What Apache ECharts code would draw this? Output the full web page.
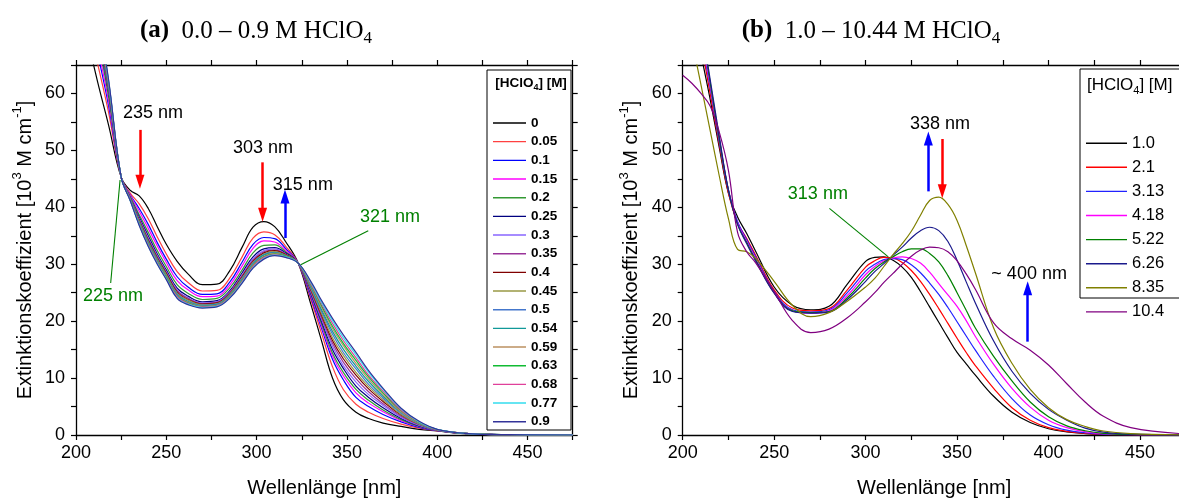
<!DOCTYPE html>
<html><head><meta charset="utf-8">
<script src="https://cdn.jsdelivr.net/npm/echarts@6/dist/echarts.min.js"></script>
<style>html,body{margin:0;padding:0;background:#fff}#c{width:1179px;height:499px}</style>
</head><body><div id="c"></div>
<script>
// ---------- Panel (a) data: 0.0 - 0.9 M HClO4 ----------
const WL_A = [205, 212, 218, 225, 230, 235, 240, 245, 250, 256, 262, 270, 278, 285, 292, 298, 304, 310, 316, 323, 330, 336, 342, 348, 355, 362, 370, 380, 390, 400, 415, 440, 475];
const a_0    = [71.5, 62.0, 54.5, 45.3, 43.0, 42.0, 39.8, 36.6, 33.5, 30.5, 28.3, 26.4, 26.5, 28.8, 33.0, 36.5, 37.5, 36.6, 34.0, 30.2, 23.0, 16.5, 10.0, 6.2, 4.0, 2.9, 2.1, 1.5, 1.0, 0.7, 0.25, 0.03, 0];
const a_005  = [74.9, 65.2, 56.7, 45.3, 42.5, 40.6, 38.0, 34.8, 31.8, 28.7, 26.8, 25.3, 25.4, 27.5, 31.3, 34.6, 35.7, 35.2, 33.2, 30.2, 23.8, 17.8, 12.0, 8.0, 5.4, 4.0, 2.9, 1.9, 1.2, 0.74, 0.26, 0.03, 0];
const a_01   = [76.8, 67.0, 57.9, 45.3, 42.2, 39.8, 37.0, 33.8, 30.9, 27.8, 26.0, 24.7, 24.8, 26.8, 30.4, 33.5, 34.7, 34.5, 32.8, 30.2, 24.2, 18.7, 13.3, 9.7, 6.6, 5.0, 3.6, 2.3, 1.35, 0.78, 0.26, 0.03, 0];
const a_015  = [78.0, 68.2, 58.7, 45.3, 42.1, 39.3, 36.3, 33.2, 30.3, 27.1, 25.5, 24.3, 24.4, 26.3, 29.7, 32.8, 34.1, 33.9, 32.5, 30.2, 24.5, 19.1, 13.9, 10.4, 7.4, 5.6, 4.1, 2.5, 1.45, 0.8, 0.27, 0.04, 0];
const a_02   = [79.4, 69.6, 59.5, 45.3, 41.9, 38.7, 35.6, 32.4, 29.6, 26.4, 24.9, 23.8, 24.0, 25.8, 29.0, 32.0, 33.3, 33.4, 32.2, 30.2, 24.7, 19.5, 14.4, 11.0, 8.0, 6.1, 4.4, 2.7, 1.5, 0.81, 0.27, 0.04, 0];
const a_025  = [80.5, 70.6, 60.3, 45.3, 41.7, 38.3, 35.0, 31.8, 29.0, 25.8, 24.4, 23.4, 23.6, 25.3, 28.5, 31.3, 32.7, 32.9, 32.0, 30.2, 24.9, 19.9, 15.0, 11.7, 8.6, 6.6, 4.8, 2.9, 1.6, 0.83, 0.27, 0.04, 0];
const a_03   = [81.1, 71.2, 60.7, 45.3, 41.6, 38.0, 34.6, 31.5, 28.7, 25.5, 24.1, 23.2, 23.4, 25.1, 28.1, 31.0, 32.4, 32.7, 31.8, 30.2, 25.1, 20.3, 15.6, 12.2, 9.3, 7.1, 5.2, 3.1, 1.7, 0.85, 0.28, 0.04, 0];
const a_035  = [81.5, 71.6, 60.9, 45.3, 41.6, 37.8, 34.4, 31.3, 28.5, 25.3, 24.0, 23.1, 23.3, 25.0, 28.0, 30.7, 32.2, 32.5, 31.8, 30.2, 25.3, 20.6, 16.1, 12.8, 9.9, 7.6, 5.5, 3.3, 1.8, 0.87, 0.28, 0.04, 0];
const a_04   = [81.9, 72.0, 61.1, 45.3, 41.5, 37.7, 34.2, 31.1, 28.4, 25.1, 23.8, 23.0, 23.2, 24.8, 27.8, 30.5, 32.0, 32.4, 31.7, 30.2, 25.5, 21.0, 16.6, 13.4, 10.5, 8.1, 5.9, 3.5, 1.9, 0.89, 0.28, 0.04, 0];
const a_045  = [82.3, 72.3, 61.4, 45.3, 41.5, 37.5, 34.0, 30.9, 28.2, 24.9, 23.7, 22.9, 23.1, 24.7, 27.6, 30.3, 31.8, 32.2, 31.6, 30.2, 25.7, 21.3, 17.1, 14.0, 11.0, 8.5, 6.2, 3.6, 1.9, 0.9, 0.28, 0.04, 0];
const a_05   = [82.5, 72.6, 61.5, 45.3, 41.4, 37.4, 33.9, 30.8, 28.0, 24.8, 23.5, 22.8, 23.0, 24.6, 27.5, 30.2, 31.7, 32.1, 31.5, 30.2, 25.9, 21.7, 17.7, 14.5, 11.6, 8.9, 6.5, 3.8, 2.0, 0.92, 0.29, 0.04, 0];
const a_054  = [82.8, 72.8, 61.7, 45.3, 41.4, 37.3, 33.8, 30.7, 27.9, 24.6, 23.4, 22.7, 22.9, 24.5, 27.3, 30.0, 31.6, 32.0, 31.5, 30.2, 26.1, 22.0, 18.2, 15.1, 12.1, 9.4, 6.8, 4.0, 2.1, 0.93, 0.29, 0.04, 0];
const a_059  = [83.0, 73.0, 61.9, 45.3, 41.3, 37.2, 33.6, 30.5, 27.8, 24.5, 23.3, 22.6, 22.8, 24.4, 27.2, 29.9, 31.4, 31.9, 31.4, 30.2, 26.3, 22.4, 18.7, 15.7, 12.6, 9.8, 7.1, 4.1, 2.1, 0.95, 0.29, 0.05, 0];
const a_063  = [83.3, 73.3, 62.0, 45.3, 41.3, 37.1, 33.5, 30.4, 27.7, 24.4, 23.2, 22.5, 22.7, 24.3, 27.1, 29.7, 31.3, 31.8, 31.4, 30.2, 26.5, 22.7, 19.1, 16.1, 13.1, 10.2, 7.4, 4.3, 2.2, 0.96, 0.29, 0.05, 0];
const a_068  = [83.5, 73.5, 62.2, 45.3, 41.3, 37.0, 33.4, 30.3, 27.5, 24.3, 23.1, 22.5, 22.7, 24.2, 27.0, 29.6, 31.2, 31.7, 31.3, 30.2, 26.6, 23.0, 19.6, 16.6, 13.6, 10.5, 7.7, 4.4, 2.3, 0.97, 0.3, 0.05, 0];
const a_077  = [83.8, 73.8, 62.3, 45.3, 41.2, 36.9, 33.2, 30.1, 27.4, 24.1, 23.0, 22.4, 22.6, 24.1, 26.8, 29.4, 31.0, 31.6, 31.3, 30.2, 26.8, 23.3, 20.1, 17.1, 14.1, 11.0, 8.0, 4.6, 2.3, 0.99, 0.3, 0.05, 0];
const a_09   = [84.0, 74.0, 62.5, 45.3, 41.2, 36.8, 33.1, 30.0, 27.3, 24.0, 22.9, 22.3, 22.5, 24.0, 26.7, 29.3, 30.9, 31.5, 31.2, 30.2, 27.0, 23.6, 20.5, 17.6, 14.5, 11.3, 8.2, 4.7, 2.4, 1.0, 0.3, 0.05, 0];
const NAMES_A = ['0', '0.05', '0.1', '0.15', '0.2', '0.25', '0.3', '0.35', '0.4', '0.45', '0.5', '0.54', '0.59', '0.63', '0.68', '0.77', '0.9'];
const SERIES_A = [a_0, a_005, a_01, a_015, a_02, a_025, a_03, a_035, a_04, a_045, a_05, a_054, a_059, a_063, a_068, a_077, a_09];
const COLORS_A = ['#000000', '#ff4040', '#0000ff', '#ff00ff', '#339933', '#000080', '#8866ff', '#993399', '#800000', '#999944', '#4477cc', '#119999', '#bb9060', '#11bb33', '#e0409a', '#33ddee', '#333399'];

// ---------- Panel (b) data: 1.0 - 10.44 M HClO4 ----------
const WL_B = [200, 205, 210, 215, 220, 225, 230, 235, 240, 250, 260, 270, 280, 290, 300, 305, 310, 315, 320, 325, 330, 335, 340, 345, 350, 355, 360, 370, 380, 390, 400, 410, 420, 430, 445, 475];
const b_1_0  = [85, 76, 67, 59, 50.5, 42.5, 38.3, 35.4, 32.2, 26.0, 22.8, 22.0, 22.6, 26.5, 30.5, 31.2, 31.3, 30.7, 29.5, 27.7, 25.2, 22.5, 19.8, 17.1, 14.5, 12.5, 10.5, 6.8, 4.0, 2.2, 1.1, 0.55, 0.25, 0.1, 0.03, 0];
const b_2_1  = [87, 78, 69, 60, 51, 42.5, 37.3, 34.5, 31.5, 25.5, 22.3, 21.8, 22.2, 25.5, 29.5, 30.6, 31.2, 31.1, 30.3, 28.9, 27.0, 24.7, 22.2, 19.6, 17.0, 14.5, 12.2, 8.2, 4.8, 2.6, 1.3, 0.65, 0.3, 0.12, 0.04, 0];
const b_3_13 = [88, 79, 70, 61, 51.5, 43, 37.5, 34.3, 31.2, 25.2, 22.0, 21.6, 22.0, 25.0, 28.8, 30.0, 30.8, 31.0, 30.8, 29.9, 28.5, 26.7, 24.7, 22.4, 19.9, 17.4, 14.9, 10.3, 6.4, 3.5, 1.8, 0.85, 0.4, 0.15, 0.05, 0];
const b_4_18 = [89, 80, 71, 61.5, 52, 43, 37.2, 34.0, 30.9, 25.0, 21.8, 21.4, 21.8, 24.5, 28.2, 29.6, 30.6, 31.1, 31.3, 31.0, 30.2, 28.6, 26.6, 24.6, 22.6, 20.1, 17.3, 12.4, 8.2, 4.9, 2.6, 1.3, 0.6, 0.25, 0.07, 0];
const b_5_22 = [90, 81, 72, 62, 52, 43, 37.0, 33.8, 30.7, 25.0, 21.8, 21.5, 21.7, 24.1, 27.6, 29.2, 30.4, 31.3, 32.2, 32.7, 32.7, 31.9, 30.4, 28.0, 25.0, 21.9, 18.8, 13.8, 9.5, 5.8, 3.2, 1.6, 0.75, 0.3, 0.1, 0];
const b_6_26 = [91, 82, 72.5, 62.5, 52.5, 43, 37.0, 33.6, 30.5, 24.9, 21.7, 21.4, 21.6, 23.8, 27.0, 28.7, 30.1, 31.6, 33.0, 34.6, 35.9, 36.5, 35.9, 34.0, 30.7, 26.9, 23.2, 16.5, 11.2, 7.3, 4.5, 2.6, 1.2, 0.5, 0.15, 0];
const b_8_35 = [78, 69.5, 61.5, 53.5, 45.5, 38.0, 32.6, 32.2, 31.0, 27.0, 22.8, 20.8, 21.5, 23.5, 26.0, 27.5, 29.6, 31.7, 33.6, 35.8, 38.6, 41.2, 41.8, 40.5, 37.7, 33.3, 28.5, 18.8, 12.6, 8.0, 4.8, 2.7, 1.5, 0.7, 0.25, 0];
const b_10_4 = [63.2, 61.8, 60.0, 57.8, 53.2, 46.5, 35.6, 32.2, 30.2, 25.2, 20.1, 18.0, 18.6, 20.6, 23.4, 25.0, 26.8, 28.4, 30.0, 31.4, 32.5, 33.0, 32.9, 32.2, 30.6, 28.3, 25.6, 19.7, 16.9, 14.9, 12.3, 9.0, 5.8, 3.3, 1.3, 0.2];
const NAMES_B = ['1.0', '2.1', '3.13', '4.18', '5.22', '6.26', '8.35', '10.4'];
const SERIES_B = [b_1_0, b_2_1, b_3_13, b_4_18, b_5_22, b_6_26, b_8_35, b_10_4];
const COLORS_B = ['#000000', '#ff0000', '#2222ff', '#ff00ff', '#008000', '#1a1a8c', '#808000', '#800080'];

// ---------- Tick labels / annotations ----------
const X_LABEL_STEP = 50, X_TICK_STEP = 25, Y_LABEL_STEP = 10, Y_TICK_STEP = 5;
const LABELS_A = [
  {text: '235 nm', x: 242.6, y: 56.6, color: '#000000'},
  {text: '303 nm', x: 303.5, y: 50.4, color: '#000000'},
  {text: '315 nm', x: 325.6, y: 44.0, color: '#000000'},
  {text: '321 nm', x: 373.8, y: 38.3, color: '#008000'},
  {text: '225 nm', x: 220.5, y: 24.5, color: '#008000'}
];
const ARROWS_A = [
  {x1: 235.4, y1: 53.6, x2: 235.4, y2: 44.5, color: '#ff0000', head: true},
  {x1: 303.3, y1: 47.9, x2: 303.3, y2: 38.7, color: '#ff0000', head: true},
  {x1: 315.7, y1: 34.6, x2: 315.7, y2: 41.9, color: '#0000ff', head: true},
  {x1: 361.8, y1: 35.9, x2: 324.4, y2: 29.9, color: '#008000', head: false},
  {x1: 219.2, y1: 26.7, x2: 224.4, y2: 44.8, color: '#008000', head: false}
];
const LABELS_B = [
  {text: '338 nm', x: 340.7, y: 54.6, color: '#000000'},
  {text: '313 nm', x: 273.9, y: 42.3, color: '#008000'},
  {text: '~ 400 nm', x: 389.4, y: 28.2, color: '#000000'}
];
const ARROWS_B = [
  {x1: 334.3, y1: 42.8, x2: 334.3, y2: 52.1, color: '#0000ff', head: true},
  {x1: 341.9, y1: 52.0, x2: 341.9, y2: 42.8, color: '#ff0000', head: true},
  {x1: 280.2, y1: 39.8, x2: 312.4, y2: 31.3, color: '#008000', head: false},
  {x1: 388.6, y1: 16.4, x2: 388.6, y2: 25.8, color: '#0000ff', head: true}
];

const FONT = "'Liberation Sans', Arial, Helvetica, sans-serif";
const SERIF = "'Liberation Serif', 'Times New Roman', serif";

const chart = echarts.init(document.getElementById('c'), null, {renderer: 'canvas'});

function mkX(gi, pos, main) {
  return {
    gridIndex: gi, type: 'value', position: pos, min: 200, max: 475, interval: X_TICK_STEP,
    axisLine: {show: true, onZero: false, lineStyle: {color: '#000', width: 1.3}},
    axisTick: {show: true, inside: false, length: 5, lineStyle: {color: '#000', width: 1.2}},
    splitLine: {show: false}, minorTick: {show: false},
    axisLabel: {show: main, formatter: v => (v % X_LABEL_STEP === 0 ? String(v) : ''), fontSize: 18, fontFamily: FONT, color: '#000', margin: 9},
    name: main ? 'Wellenlänge [nm]' : '', nameLocation: 'middle', nameGap: 43,
    nameTextStyle: {fontSize: 20, fontFamily: FONT, color: '#000'}
  };
}
function mkY(gi, pos, main) {
  return {
    gridIndex: gi, type: 'value', position: pos, min: 0, max: 65, interval: Y_TICK_STEP,
    axisLine: {show: true, onZero: false, lineStyle: {color: '#000', width: 1.3}},
    axisTick: {show: true, inside: false, length: 5, lineStyle: {color: '#000', width: 1.2}},
    splitLine: {show: false}, minorTick: {show: false},
    axisLabel: {show: main, formatter: v => (v % Y_LABEL_STEP === 0 ? String(v) : ''), fontSize: 18, fontFamily: FONT, color: '#000', margin: 11},
    name: main ? '{n|Extinktionskoeffizient [10}{s|3}{n| M cm}{s|-1}{n|]}' : '',
    nameLocation: 'middle', nameRotate: 90, nameGap: 37,
    nameTextStyle: {
      fontSize: 20, fontFamily: FONT, color: '#000',
      rich: {
        n: {fontSize: 20, fontFamily: FONT, color: '#000', lineHeight: 28},
        s: {fontSize: 13, fontFamily: FONT, color: '#000', lineHeight: 13, verticalAlign: 'top'}
      }
    }
  };
}

function curveSeries(names, data, colors, wl, axisIdx) {
  return names.map((n, i) => ({
    name: n, type: 'line', xAxisIndex: axisIdx, yAxisIndex: axisIdx,
    data: wl.map((w, j) => [w, data[i][j]]),
    smooth: 0.4, symbol: 'none', showSymbol: false, silent: true,
    lineStyle: {width: 1.2, color: colors[i]}, itemStyle: {color: colors[i]},
    animation: false, z: 2
  }));
}
function annotSeries(labels, arrows, axisIdx) {
  return {
    type: 'scatter', xAxisIndex: axisIdx, yAxisIndex: axisIdx, silent: true, animation: false, z: 10,
    symbol: 'circle', symbolSize: 1, itemStyle: {color: 'rgba(0,0,0,0)', opacity: 1},
    data: labels.map(a => ({
      value: [a.x, a.y],
      label: {show: true, position: 'inside', formatter: a.text, color: a.color, fontSize: 18, fontFamily: FONT, opacity: 1}
    })),
    markLine: {
      silent: true, animation: false, symbol: ['none', 'none'], symbolSize: 12,
      label: {show: false}, emphasis: {disabled: true},
      data: arrows.map(a => [
        {coord: [a.x1, a.y1], symbol: 'none', lineStyle: {color: a.color, width: a.head ? 2.5 : 1.1, type: 'solid', opacity: 1}},
        {coord: [a.x2, a.y2], symbol: a.head ? 'triangle' : 'none', symbolSize: [9, 14], itemStyle: {color: a.color, opacity: 1}}
      ])
    }
  };
}

const option = {
  backgroundColor: '#ffffff',
  animation: false,
  grid: [
    {left: 76, top: 65, width: 496.7, height: 370, containLabel: false, outerBoundsMode: 'none'},
    {left: 682.7, top: 65, width: 503, height: 370, containLabel: false, outerBoundsMode: 'none'}
  ],
  xAxis: [mkX(0, 'bottom', true), mkX(0, 'top', false), mkX(1, 'bottom', true), mkX(1, 'top', false)],
  yAxis: [mkY(0, 'left', true), mkY(0, 'right', false), mkY(1, 'left', true), mkY(1, 'right', false)],
  legend: [
    {
      data: NAMES_A, orient: 'vertical', left: 493, top: 116, padding: 0, icon: 'rect',
      itemWidth: 33, itemHeight: 1.4, itemGap: 4.67, selectedMode: false,
      textStyle: {fontSize: 13.5, fontWeight: 'bold', fontFamily: FONT, color: '#000', lineHeight: 14}
    },
    {
      data: NAMES_B, orient: 'vertical', left: 1086, top: 134.7, padding: 0, icon: 'rect',
      itemWidth: 41, itemHeight: 1.4, itemGap: 7.1, selectedMode: false,
      textStyle: {fontSize: 16.5, fontFamily: FONT, color: '#000', lineHeight: 14}
    }
  ],
  graphic: [
    {type: 'rect', shape: {x: 487, y: 70, width: 84, height: 360}, style: {fill: 'none', stroke: '#000', lineWidth: 1}, z: 50},
    {type: 'rect', shape: {x: 1080, y: 69, width: 120, height: 229}, style: {fill: 'none', stroke: '#000', lineWidth: 1}, z: 50},
    {type: 'text', x: 531, y: 83, z: 50, style: {
      text: '{t|[HClO}{s|4}{t|] [M]}', align: 'center', verticalAlign: 'middle',
      rich: {t: {fontSize: 13.5, fontWeight: 'bold', fontFamily: FONT, fill: '#000', lineHeight: 18},
             s: {fontSize: 9, fontWeight: 'bold', fontFamily: FONT, fill: '#000', lineHeight: 9, verticalAlign: 'bottom'}}
    }},
    {type: 'text', x: 1087, y: 85, z: 50, style: {
      text: '{t|[HClO}{s|4}{t|] [M]}', align: 'left', verticalAlign: 'middle',
      rich: {t: {fontSize: 17, fontFamily: FONT, fill: '#000', lineHeight: 22},
             s: {fontSize: 11, fontFamily: FONT, fill: '#000', lineHeight: 11, verticalAlign: 'bottom'}}
    }},
    {type: 'text', x: 256, y: 31, z: 50, style: {
      text: '{b|(a)}{n|  0.0 – 0.9 M HClO}{s|4}', align: 'center', verticalAlign: 'middle',
      rich: {b: {fontSize: 25, fontWeight: 'bold', fontFamily: SERIF, fill: '#000', lineHeight: 32},
             n: {fontSize: 25, fontFamily: SERIF, fill: '#000', lineHeight: 32},
             s: {fontSize: 17, fontFamily: SERIF, fill: '#000', lineHeight: 17, verticalAlign: 'bottom'}}
    }},
    {type: 'text', x: 871, y: 31, z: 50, style: {
      text: '{b|(b)}{n|  1.0 – 10.44 M HClO}{s|4}', align: 'center', verticalAlign: 'middle',
      rich: {b: {fontSize: 25, fontWeight: 'bold', fontFamily: SERIF, fill: '#000', lineHeight: 32},
             n: {fontSize: 25, fontFamily: SERIF, fill: '#000', lineHeight: 32},
             s: {fontSize: 17, fontFamily: SERIF, fill: '#000', lineHeight: 17, verticalAlign: 'bottom'}}
    }}
  ],
  series: [
    ...curveSeries(NAMES_A, SERIES_A, COLORS_A, WL_A, 0),
    ...curveSeries(NAMES_B, SERIES_B, COLORS_B, WL_B, 2),
    annotSeries(LABELS_A, ARROWS_A, 0),
    annotSeries(LABELS_B, ARROWS_B, 2)
  ]
};
chart.setOption(option);
</script>
</body></html>
